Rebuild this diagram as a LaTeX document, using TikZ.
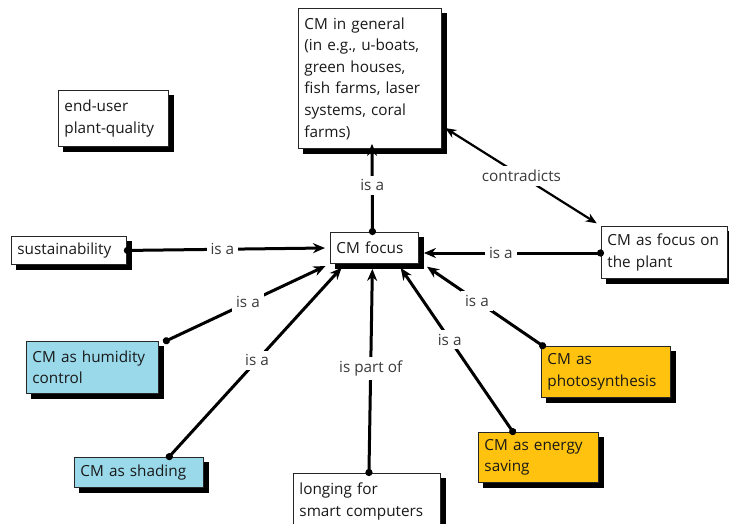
\documentclass[tikz,border=0pt]{standalone}
\usepackage{fontspec}
\setmainfont{Open Sans}
\usetikzlibrary{arrows.meta,calc,backgrounds}
\definecolor{cmblue}{HTML}{99D9EA}
\definecolor{cmyellow}{HTML}{FFC20E}
\definecolor{lblgray}{HTML}{3A3A3A}
\tikzset{
  box/.style={draw=black!85, line width=0.9pt, fill=white, anchor=north west,
    inner xsep=6pt, inner ysep=2pt, align=left,
    font=\fontsize{15.3}{21.6}\selectfont, text=black!90},
  shadowbox/.style={fill=black},
  conn/.style={line width=3pt, draw=black,
    {Circle[length=7pt]}-{Stealth[length=12pt,width=10pt]}, shorten >=5pt, shorten <=-3pt},
  twoway/.style={line width=2.2pt, draw=black,
    {Stealth[length=11pt,width=9pt]}-{Stealth[length=11pt,width=9pt]}, shorten >=5pt, shorten <=4pt},
  lbl/.style={fill=white, inner sep=4pt, font=\fontsize{15.3}{18}\selectfont, text=lblgray}
}
\begin{document}
\begin{tikzpicture}[x=1pt,y=-1pt]
\useasboundingbox (0,0) rectangle (729,524);
\clip (0,0) rectangle (729,524);

\node[box, text width=131pt, minimum height=140pt] (gen) at (298,8)
  {CM in general\\(in e.g., u-boats,\\green houses,\\fish farms, laser\\systems, coral\\farms)};
\node[box, text width=98pt, minimum height=56pt] (user) at (58,90)
  {end-user\\plant-quality};
\node[box, text width=103pt, minimum height=28pt] (sus) at (11,236) {sustainability};
\node[box, text width=76pt, minimum height=31pt] (cmf) at (330,232) {CM focus};
\node[box, text width=114pt, minimum height=52pt] (plant) at (601,226)
  {CM as focus on\\the plant};
\node[box, fill=cmblue, text width=120pt, minimum height=52pt] (hum) at (26,341)
  {CM as humidity\\control};
\node[box, fill=cmblue, text width=117pt, minimum height=30pt] (shade) at (74,457)
  {CM as shading};
\node[box, text width=135pt, minimum height=56pt] (long) at (293,473)
  {longing for\\smart computers};
\node[box, fill=cmyellow, text width=117pt, minimum height=51pt] (photo) at (541,346)
  {CM as\\photosynthesis};
\node[box, fill=cmyellow, text width=108pt, minimum height=50pt] (energy) at (478,432)
  {CM as energy\\saving};

\begin{scope}[on background layer]
\foreach \n in {gen,user,sus,cmf,plant,hum,shade,long,photo,energy}
  \fill[shadowbox] ($(\n.north west)+(5,5)$) rectangle ($(\n.south east)+(5,5)$);
\end{scope}

\draw[conn] ($(cmf.north)+(-2,0)$) -- node[lbl]{is a} ($(gen.south)+(2,-10)$);
\draw[conn] (sus.east) -- node[lbl, pos=0.47]{is a} (cmf.west);
\draw[conn] (plant.west |- 0,253) -- node[lbl, pos=0.55]{is a} (cmf.east |- 0,253);
\draw[twoway] ([yshift=23pt]gen.south east) -- node[lbl]{contradicts} (plant.north west);
\draw[conn] ($(hum.north east)+(7,0)$) -- node[lbl]{is a} (cmf.south west);
\draw[conn] ($(shade.north)+(30,0)$) -- node[lbl]{is a} ($(cmf.south west)+(15,0)$);
\draw[conn] ($(long.north)+(2,0)$) -- node[lbl]{is part of} ($(cmf.south)+(-2,0)$);
\draw[conn] ($(energy.north west)+(35,0)$) -- node[lbl, pos=0.55]{is a} ($(cmf.south east)+(-21,0)$);
\draw[conn] ($(photo.north west)+(2,0)$) -- node[lbl, pos=0.55]{is a} ($(cmf.south east)+(4,0)$);
\end{tikzpicture}
\end{document}
